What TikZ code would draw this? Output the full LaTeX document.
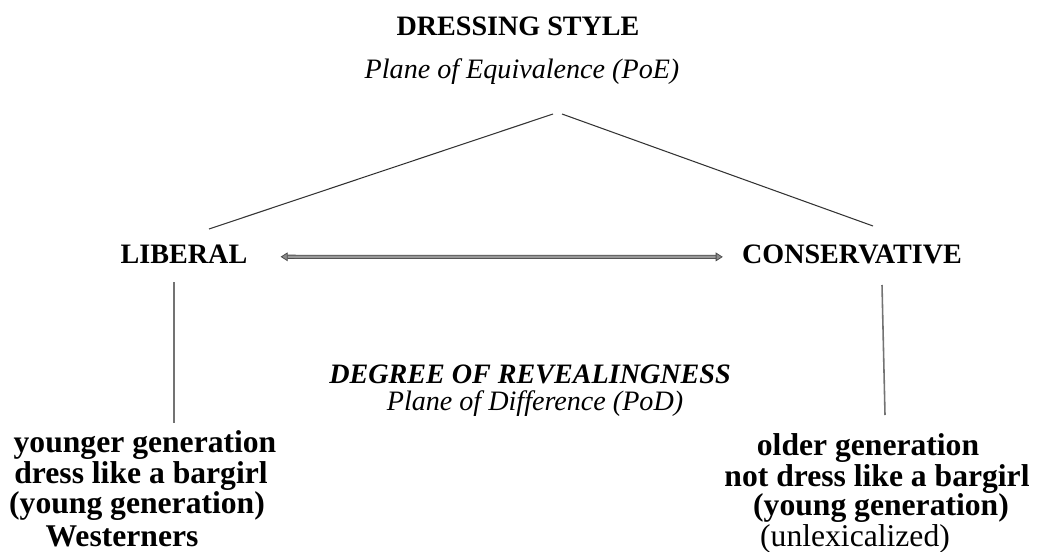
\documentclass[tikz,border=0pt]{standalone}
\usepackage{fontspec}
\setmainfont{Liberation Serif}
\usetikzlibrary{arrows.meta}
\tikzstyle{heading} = [font=\fontsize{16}{18}\selectfont\bfseries, inner sep=0pt, anchor=base]
\tikzstyle{plane} = [font=\fontsize{16}{19}\selectfont\itshape, inner sep=0pt, anchor=base]
\tikzstyle{degree} = [font=\fontsize{16}{19}\selectfont\bfseries\itshape, inner sep=0pt, anchor=base]
\tikzstyle{gen} = [font=\fontsize{18}{21}\selectfont\bfseries, inner sep=0pt, anchor=base]
\tikzstyle{genplain} = [font=\fontsize{18}{21}\selectfont, inner sep=0pt, anchor=base]
\tikzstyle{branch} = [draw=black!80, line width=0.6pt]
\tikzstyle{stem} = [draw=black!55, line width=0.9pt]
\tikzstyle{biarrow} = [draw=black!70, line width=0.45pt, double=black!40, double distance=1.4pt, {Triangle[length=4pt, width=5pt, fill=black!45]}-{Triangle[length=4pt, width=5pt, fill=black!45]}]

\begin{document}
\begin{tikzpicture}[x=0.02cm, y=-0.02cm]
\useasboundingbox (0,0) rectangle (1037,551);
% Nodes
\node (dress) [heading] at (518,35) {DRESSING STYLE};
\node (poe) [plane] at (522,78) {Plane of Equivalence (PoE)};

\node (liberal) [heading] at (184,263) {LIBERAL};
\node (conserv) [heading] at (852,263) {CONSERVATIVE};

\node (degree) [degree] at (530,383) {DEGREE OF REVEALINGNESS};
\node (pod) [plane] at (535,410) {Plane of Difference (PoD)};

\node (young1) [gen] at (145,452) {younger generation};
\node (young2) [gen] at (141,483) {dress like a bargirl};
\node (young3) [gen] at (137,513) {(young generation)};
\node (young4) [gen] at (122,546) {Westerners};

\node (old1) [gen] at (868,455) {older generation};
\node (old2) [gen] at (877,486) {not dress like a bargirl};
\node (old3) [gen] at (881,515) {(young generation)};
\node (old4) [genplain] at (855,546) {(unlexicalized)};

% Line ends
\coordinate (apexL) at (553,114);
\coordinate (apexR) at (562,114);
\coordinate (libTop) at (209,229);
\coordinate (conTop) at (873,226);
\coordinate (libA) at (174,282);
\coordinate (libB) at (174,423);
\coordinate (conA) at (882,285);
\coordinate (conB) at (885,415);

% Connections
\draw [branch] (apexL) -- (libTop);
\draw [branch] (apexR) -- (conTop);
\draw [biarrow] ([xshift=0.66cm, yshift=-0.06cm]liberal.east) -- ([xshift=-0.38cm, yshift=-0.06cm]conserv.west);
\draw [stem] (libA) -- (libB);
\draw [stem] (conA) -- (conB);

\end{tikzpicture}
\end{document}
